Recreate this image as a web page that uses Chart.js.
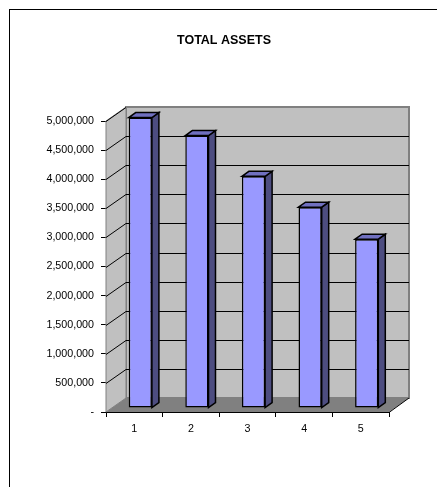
<!DOCTYPE html>
<html>
<head>
<meta charset="utf-8">
<script src="https://cdn.jsdelivr.net/npm/chart.js@4/dist/chart.umd.min.js"></script>
<style>
  html, body { margin: 0; padding: 0; background: #fff; overflow: hidden; }
  #wrap { position: relative; width: 437px; height: 487px; }
  #frame { position: absolute; left: 9px; top: 9px; width: 600px; height: 600px; border: 1px solid #000; box-sizing: border-box; pointer-events: none; }
  canvas { position: absolute; left: 0; top: 0; }
</style>
</head>
<body>
<div id="wrap">
  <canvas id="c" width="437" height="487"></canvas>
  <div id="frame"></div>
</div>
<script>
const chartTitle = 'TOTAL ASSETS';
const categories = ['1', '2', '3', '4', '5'];
const totalAssets = [4990000, 4680000, 3980000, 3450000, 2900000];
const yTicks = [0, 500000, 1000000, 1500000, 2000000, 2500000, 3000000, 3500000, 4000000, 4500000, 5000000];

const DEPTH_X = 20, DEPTH_Y = -14;      // wall depth
const BAR_SHIFT_X = 6, BAR_SHIFT_Y = -4; // bar front plane offset
const BAR_DX = 7, BAR_DY = -5;           // bar depth

function poly(ctx, pts, fill, stroke, lw) {
  ctx.beginPath();
  ctx.moveTo(pts[0][0], pts[0][1]);
  for (let i = 1; i < pts.length; i++) ctx.lineTo(pts[i][0], pts[i][1]);
  ctx.closePath();
  if (fill) { ctx.fillStyle = fill; ctx.fill(); }
  if (stroke) { ctx.strokeStyle = stroke; ctx.lineWidth = lw || 1; ctx.stroke(); }
}

const walls3d = {
  id: 'walls3d',
  beforeDatasetsDraw(chart) {
    const ctx = chart.ctx;
    const a = chart.chartArea;
    const ys = chart.scales.y;
    const L = a.left, R = a.right, T = a.top, B = a.bottom;
    ctx.save();
    // back wall
    poly(ctx, [[L + DEPTH_X, T + DEPTH_Y], [R + DEPTH_X, T + DEPTH_Y], [R + DEPTH_X, B + DEPTH_Y], [L + DEPTH_X, B + DEPTH_Y]], '#C0C0C0', '#808080', 2);
    // side wall
    poly(ctx, [[L, T], [L + DEPTH_X, T + DEPTH_Y], [L + DEPTH_X, B + DEPTH_Y], [L, B]], '#C0C0C0', '#808080', 1);
    // floor
    poly(ctx, [[L, B], [R, B], [R + DEPTH_X, B + DEPTH_Y], [L + DEPTH_X, B + DEPTH_Y]], '#808080', null);
    // gridlines
    ctx.strokeStyle = '#000';
    ctx.lineWidth = 1;
    yTicks.forEach(v => {
      if (v === 0) return;
      const y = Math.round(ys.getPixelForValue(v)) + 0.5;
      ctx.beginPath();
      ctx.moveTo(L, y);
      ctx.lineTo(L + DEPTH_X, y + DEPTH_Y);
      if (v !== 5000000) ctx.lineTo(R + DEPTH_X, y + DEPTH_Y);
      ctx.stroke();
    });
    // right floor edge
    ctx.beginPath();
    ctx.moveTo(R, B + 0.5);
    ctx.lineTo(R + DEPTH_X, B + DEPTH_Y);
    ctx.strokeStyle = '#000';
    ctx.stroke();
    ctx.restore();
    ctx.save();
    ctx.translate(BAR_SHIFT_X, BAR_SHIFT_Y);
  },
  afterDatasetsDraw(chart) {
    const ctx = chart.ctx;
    const meta = chart.getDatasetMeta(0);
    meta.data.forEach(bar => {
      const w = bar.width;
      const l = bar.x - w / 2, r = bar.x + w / 2;
      const t = bar.y, b = bar.base;
      poly(ctx, [[r, t], [r + BAR_DX, t + BAR_DY], [r + BAR_DX, b + BAR_DY], [r, b]], '#4D4D80', '#000', 1.5);
      poly(ctx, [[l, t], [l + BAR_DX, t + BAR_DY], [r + BAR_DX, t + BAR_DY], [r, t]], '#7070C0', '#000', 1.5);
    });
    ctx.restore();
  },
  afterDraw(chart) {
    const ctx = chart.ctx;
    ctx.save();
    ctx.fillStyle = '#000';
    ctx.font = 'bold 12.5px "Liberation Sans", Arial, sans-serif';
    ctx.textAlign = 'center';
    ctx.textBaseline = 'middle';
    ctx.fillText(chartTitle, 224, 41);
    ctx.restore();
  }
};

new Chart(document.getElementById('c'), {
  type: 'bar',
  data: {
    labels: categories,
    datasets: [{
      data: totalAssets,
      backgroundColor: '#9999FF',
      borderColor: '#000',
      borderWidth: 1.5,
      borderSkipped: false,
      barPercentage: 0.41,
      categoryPercentage: 1.0
    }]
  },
  options: {
    responsive: false,
    animation: false,
    devicePixelRatio: 1,
    layout: { padding: { left: 0, right: 48, top: 121, bottom: 0 } },
    plugins: { legend: { display: false }, tooltip: { enabled: false }, title: { display: false } },
    scales: {
      x: {
        offset: true,
        grid: { offset: true, drawOnChartArea: false, drawTicks: true, tickLength: 5, color: '#000' },
        border: { display: true, color: '#000', width: 1 },
        ticks: { color: '#000', font: { family: '"Liberation Sans", Arial, sans-serif', size: 10.7 }, padding: 6 },
        afterFit(s) { s.height = 75; }
      },
      y: {
        min: 0, max: 5000000,
        afterBuildTicks(s) { s.ticks = yTicks.map(v => ({ value: v })); },
        grid: { drawOnChartArea: false, drawTicks: true, tickLength: 5, color: '#000' },
        border: { display: true, color: '#000', width: 1 },
        ticks: {
          color: '#000',
          font: { family: '"Liberation Sans", Arial, sans-serif', size: 10.7 },
          padding: 7,
          callback: v => v === 0 ? '-' : Number(v).toLocaleString('en-US')
        },
        afterFit(s) { s.width = 106; }
      }
    }
  },
  plugins: [walls3d]
});
</script>
</body>
</html>
